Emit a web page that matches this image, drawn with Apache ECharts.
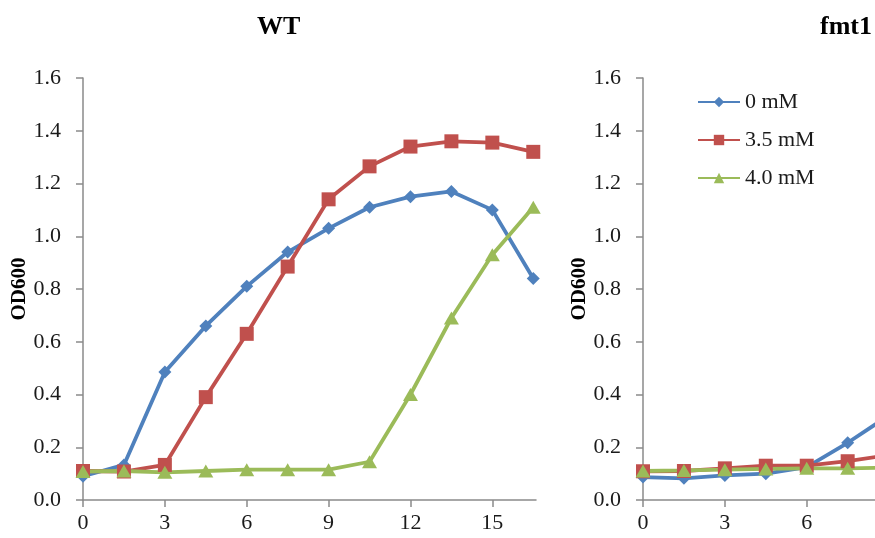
<!DOCTYPE html>
<html>
<head>
<meta charset="utf-8">
<title>OD600</title>
<script src="https://cdn.jsdelivr.net/npm/echarts@6/dist/echarts.min.js"></script>
<style>
    html,body{margin:0;padding:0;background:#fff;}
    #growthChart{width:875px;height:538px;}
</style>
</head>
<body>
<div id="growthChart"></div>
<script>
// time points (h)
var hoursWT=[0,1.5,3,4.5,6,7.5,9,10.5,12,13.5,15,16.5];
var hoursFmt1=[0,1.5,3,4.5,6,7.5,9];
var xTicks=[0,3,6,9,12,15];
var seriesNames=['0 mM','3.5 mM','4.0 mM'];

// WT
var wt0=[0.09,0.133,0.485,0.66,0.81,0.94,1.03,1.11,1.15,1.17,1.10,0.84];
var wt35=[0.11,0.108,0.133,0.39,0.63,0.885,1.14,1.265,1.34,1.36,1.355,1.32];
var wt40=[0.108,0.11,0.105,0.11,0.115,0.115,0.115,0.145,0.40,0.69,0.93,1.11];

// fmt1 (only the start is visible)
var fmt0=[0.087,0.082,0.093,0.10,0.125,0.217,0.32];
var fmt35=[0.109,0.11,0.12,0.13,0.13,0.147,0.17];
var fmt40=[0.11,0.112,0.115,0.118,0.12,0.12,0.123];

var colors=['#4f81bd','#c0504d','#9bbb59'];
var serif='"Liberation Serif","DejaVu Serif",serif';

function pairs(xs,ys){
    var out=[];
    for(var i=0;i<ys.length;i++){
        out.push([xs[i],ys[i]]);
    }
    return out;
}

function makeX(idx){
    return {
        type:'value',
        gridIndex:idx,
        min:0,
        max:16.6,
        axisLine:{show:true,lineStyle:{color:'#8a8a8a',width:1.5}},
        axisTick:{show:true,length:7,customValues:xTicks,lineStyle:{color:'#8a8a8a',width:1.5}},
        axisLabel:{customValues:xTicks,margin:12,color:'#1a1a1a',fontFamily:serif,fontSize:22},
        splitLine:{show:false}
    };
}

function makeY(idx){
    return {
        type:'value',
        gridIndex:idx,
        min:0,
        max:1.6,
        interval:0.2,
        name:'OD600',
        nameLocation:'middle',
        nameRotate:90,
        nameGap:53,
        nameMoveOverlap:false,
        nameTextStyle:{color:'#000',fontFamily:serif,fontSize:21,fontWeight:'bold'},
        axisLine:{show:true,lineStyle:{color:'#8a8a8a',width:1.5}},
        axisTick:{show:true,length:7,lineStyle:{color:'#8a8a8a',width:1.5}},
        axisLabel:{margin:22,color:'#1a1a1a',fontFamily:serif,fontSize:22,
            formatter:function(v){return v.toFixed(1);}},
        splitLine:{show:false}
    };
}

var symbols=['diamond','rect','triangle'];
var symbolSizes=[13,14,[15,13]];

function makeSeries(k,idx,data){
    return {
        name:seriesNames[k],
        type:'line',
        xAxisIndex:idx,
        yAxisIndex:idx,
        data:data,
        symbol:symbols[k],
        symbolSize:symbolSizes[k],
        showAllSymbol:true,
        clip:false,
        color:colors[k],
        lineStyle:{width:3.8,color:colors[k]},
        itemStyle:{color:colors[k]},
        animation:false
    };
}

var growthChart=echarts.init(document.getElementById('growthChart'));

var option={
    backgroundColor:'#fff',
    title:[
        {text:'WT',left:257,top:14,padding:0,textStyle:{fontFamily:serif,fontSize:26,fontWeight:'bold',color:'#000'}},
        {text:'fmt1',left:820,top:14,padding:0,textStyle:{fontFamily:serif,fontSize:26,fontWeight:'bold',color:'#000'}}
    ],
    legend:{
        orient:'vertical',
        left:697,
        top:91,
        padding:0,
        itemWidth:42,
        itemHeight:13,
        itemGap:16,
        data:seriesNames,
        textStyle:{fontFamily:serif,fontSize:22,color:'#1a1a1a',lineHeight:22}
    },
    grid:[
        {left:83,top:78,width:453,height:422,outerBoundsMode:'none',containLabel:false},
        {left:643,top:78,width:453,height:422,outerBoundsMode:'none',containLabel:false}
    ],
    xAxis:[makeX(0),makeX(1)],
    yAxis:[makeY(0),makeY(1)],
    series:[
        makeSeries(0,0,pairs(hoursWT,wt0)),
        makeSeries(1,0,pairs(hoursWT,wt35)),
        makeSeries(2,0,pairs(hoursWT,wt40)),
        makeSeries(0,1,pairs(hoursFmt1,fmt0)),
        makeSeries(1,1,pairs(hoursFmt1,fmt35)),
        makeSeries(2,1,pairs(hoursFmt1,fmt40))
    ]
};

growthChart.setOption(option);
window.addEventListener('resize',function(){
    growthChart.resize();
});
</script>
</body>
</html>
